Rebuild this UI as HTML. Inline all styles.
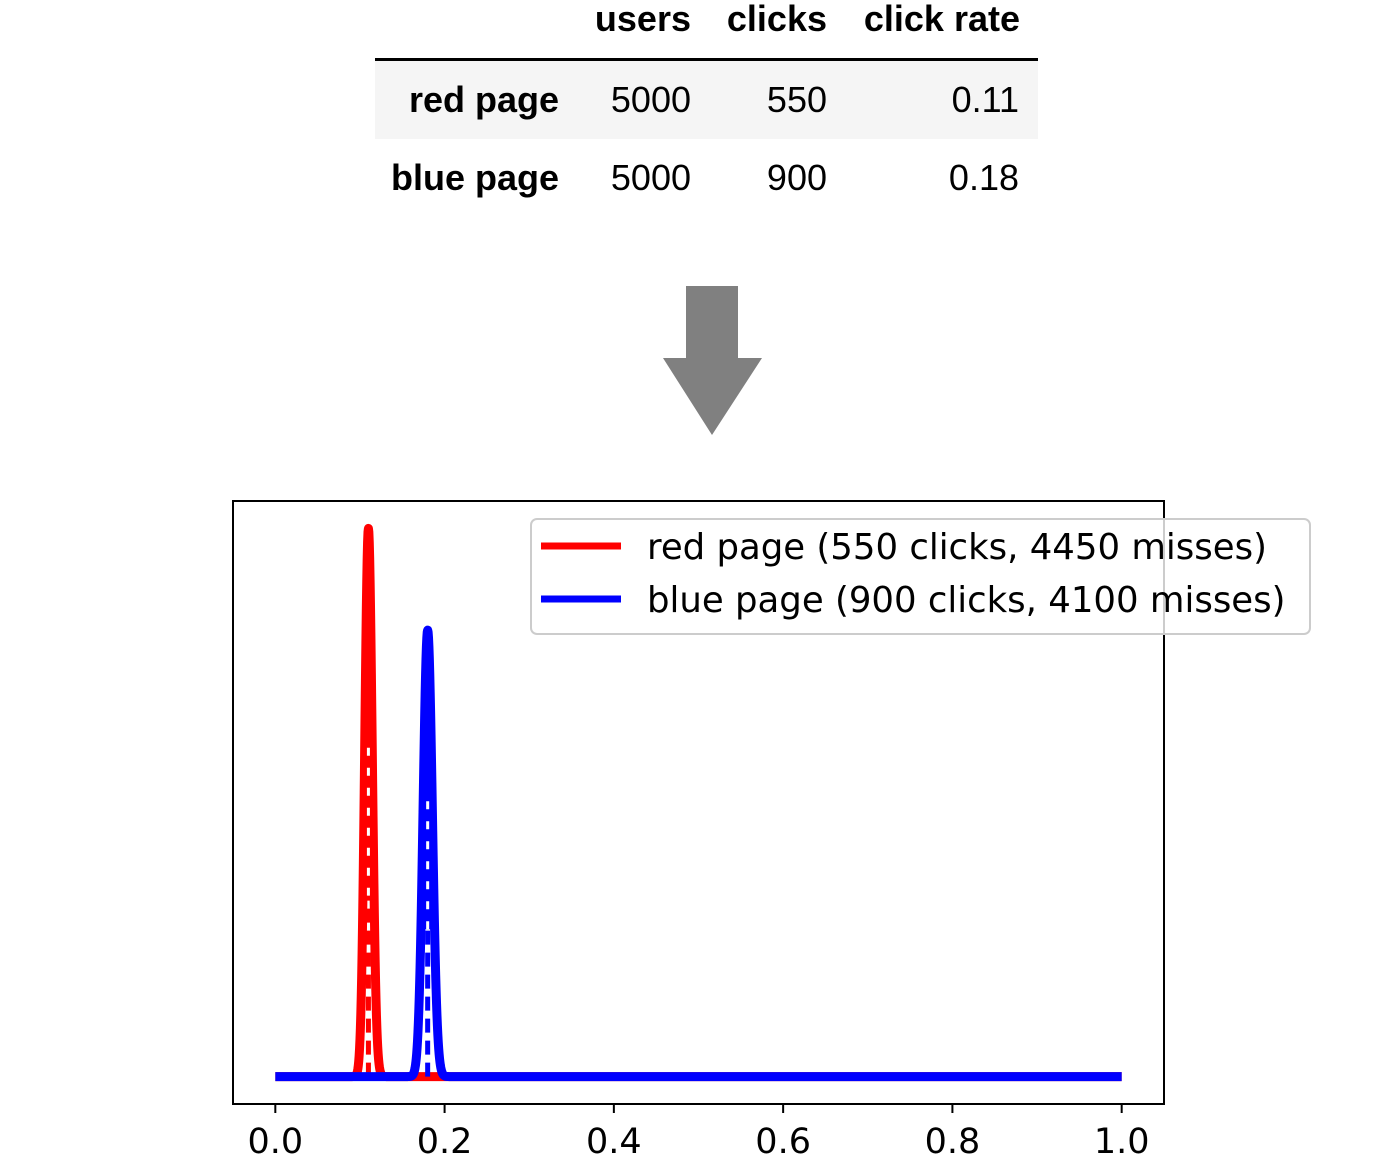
<!DOCTYPE html>
<html><head><meta charset="utf-8"><style>
body{margin:0;background:#fff;width:1400px;height:1155px;overflow:hidden}
svg{display:block}
</style></head><body>
<svg id="root" width="1400" height="1155" xmlns="http://www.w3.org/2000/svg">
<g font-family="Liberation Sans, sans-serif" font-size="36">
  <rect x="375" y="61" width="663" height="78" fill="#f5f5f5"/>
  <line x1="375" y1="59.5" x2="1038" y2="59.5" stroke="#000" stroke-width="3"/>
  <g font-weight="bold" text-anchor="end">
    <text x="691" y="31">users</text>
    <text x="827" y="31">clicks</text>
    <text x="1020" y="31">click rate</text>
    <text x="559" y="112">red page</text>
    <text x="559" y="190">blue page</text>
  </g>
  <g text-anchor="end">
    <text x="691" y="112">5000</text>
    <text x="827" y="112">550</text>
    <text x="1019" y="112">0.11</text>
    <text x="691" y="190">5000</text>
    <text x="827" y="190">900</text>
    <text x="1019" y="190">0.18</text>
  </g>
</g>
<path d="M686 286H738V358H762L712 435L663 358H686Z" fill="#808080"/>
<g id="chart"></g>
</svg>
<script>
const seriesNames = ["red page", "blue page"];
const seriesClicks = [550, 900];
const seriesMisses = [4450, 4100];
const seriesColors = ["#ff0000", "#0000ff"];
const xTicks = [0.0, 0.2, 0.4, 0.6, 0.8, 1.0];
const xTickLabels = ["0.0", "0.2", "0.4", "0.6", "0.8", "1.0"];

const NS = "http://www.w3.org/2000/svg";
const chart = document.getElementById("chart");
function mk(tag, attrs, parent) {
  const e = document.createElementNS(NS, tag);
  for (const k in attrs) e.setAttribute(k, attrs[k]);
  (parent || chart).appendChild(e);
  return e;
}
function lgamma(z) {
  let s = 0;
  while (z < 10) { s -= Math.log(z); z += 1; }
  return s + (z - 0.5) * Math.log(z) - z + 0.5 * Math.log(2 * Math.PI) + 1 / (12 * z) - 1 / (360 * z * z * z);
}
function betaPdf(x, a, b) {
  if (x <= 0 || x >= 1) return 0;
  return Math.exp((a - 1) * Math.log(x) + (b - 1) * Math.log(1 - x) + lgamma(a + b) - lgamma(a) - lgamma(b));
}
const L = 233, R = 1164, T = 501, B = 1104;
const xMin = -0.05, xMax = 1.05;
let yMax = 0;
const N = 2000;
const curves = seriesClicks.map((c, i) => {
  const a = c + 1, b = seriesMisses[i] + 1;
  const pts = [];
  for (let k = 0; k <= N; k++) { const x = k / N; const y = betaPdf(x, a, b); pts.push([x, y]); if (y > yMax) yMax = y; }
  return pts;
});
const yLo = -0.05 * yMax, yHi = 1.05 * yMax;
const sx = v => L + (v - xMin) / (xMax - xMin) * (R - L);
const sy = v => B - (v - yLo) / (yHi - yLo) * (B - T);

curves.forEach((pts, i) => {
  const c = seriesClicks[i];
  const m = c / (c + seriesMisses[i]);
  const pk = betaPdf(m, c + 1, seriesMisses[i] + 1);
  const g = mk("g", {});
  
  
  const d = pts.map((p, k) => (k ? "L" : "M") + sx(p[0]).toFixed(2) + " " + sy(p[1]).toFixed(2)).join("");
  const p = mk("path", {d: d, fill: "none", stroke: seriesColors[i], "stroke-width": 9, "stroke-linejoin": "round"}, g);
  
  
  const yTop = sy(pk * 0.62), yMid = sy(pk * 0.33), yBase = sy(0);
  // fill interior of upper part with series colour
  const fillL = mk("line", {x1: sx(m), x2: sx(m), y1: yMid, y2: yTop, stroke: seriesColors[i], "stroke-width": 10}, g);
  
  
  const wd = mk("line", {x1: sx(m), x2: sx(m), y1: yMid, y2: yTop, stroke: "#fff", "stroke-width": 3, "stroke-dasharray": "8 12"}, g);
  
  
  const cd = mk("line", {x1: sx(m), x2: sx(m), y1: yBase, y2: yMid, stroke: seriesColors[i], "stroke-width": 5, "stroke-dasharray": "14 8"}, g);
  
  
});
const frame = mk("rect", {x: L, y: T, width: R - L, height: B - T, fill: "none", stroke: "#000", "stroke-width": 2});


xTicks.forEach((t, i) => {
  const tk = mk("line", {x1: sx(t), x2: sx(t), y1: B, y2: B + 9, stroke: "#000", "stroke-width": 2});
  
  
  const tl = mk("text", {x: sx(t), y: 1153, "text-anchor": "middle", "font-family": "DejaVu Sans, sans-serif", "font-size": 35});
  tl.textContent = xTickLabels[i];
  
  
});
const lg = mk("g", {});


const box = mk("rect", {x: 531, y: 519, width: 779, height: 115, rx: 6, fill: "#fff", "fill-opacity": 0.8, stroke: "#cccccc", "stroke-width": 2}, lg);


seriesNames.forEach((n, i) => {
  const y = 546 + i * 53;
  const sw = mk("line", {x1: 541, x2: 621, y1: y, y2: y, stroke: seriesColors[i], "stroke-width": 7}, lg);
  
  
  const tx = mk("text", {x: 647, y: y + 13, "font-family": "DejaVu Sans, sans-serif", "font-size": 35.5}, lg);
  tx.textContent = n + " (" + seriesClicks[i] + " clicks, " + seriesMisses[i] + " misses)";
  
  
});
</script>
</body></html>
